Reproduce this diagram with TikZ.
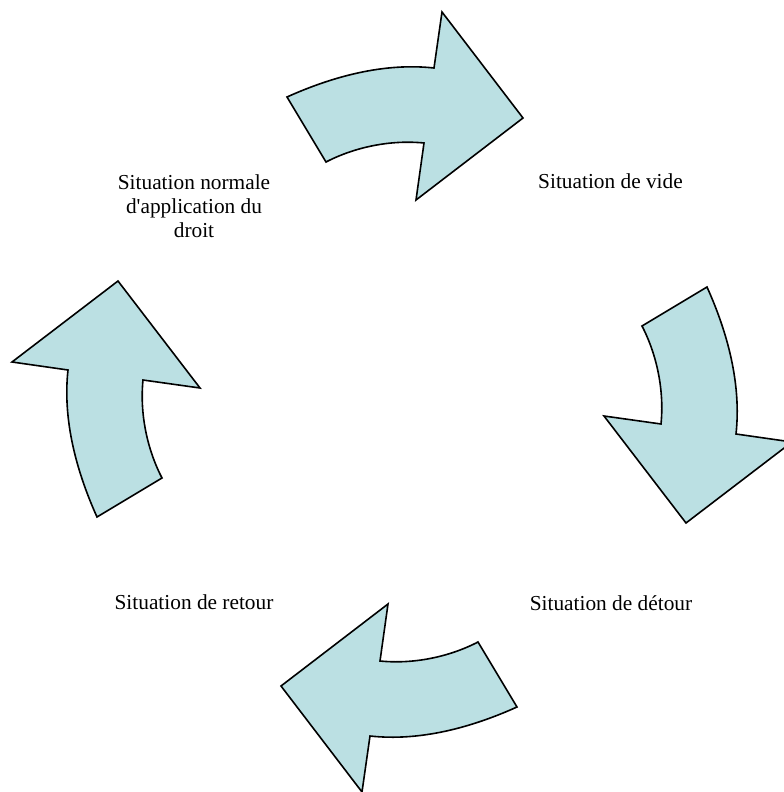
\documentclass[tikz,border=0pt]{standalone}
\usepackage{fontspec}
\setmainfont{Liberation Serif}
\definecolor{arrowfill}{RGB}{187,224,227}
\tikzset{
	cyclearrow/.style={draw=black, fill=arrowfill, line width=1.2pt, line join=miter},
	sitlabel/.style={inner sep=0pt, anchor=base}
}
\begin{document}
\begin{tikzpicture}[x=0.75pt, y=-0.75pt, font=\fontsize{16}{18}\selectfont]
		\useasboundingbox (0,0) rectangle (784,792);
		%	one arrow, turned round the centre
		\foreach \ang in {0,-90,-180,-270}{
			\begin{scope}[shift={(402,402)}, rotate=\ang]
				\draw[cyclearrow] (-115,-305) .. controls (-69.5,-325.5) and (-18,-339.5) .. (32,-334)
				-- (40,-390) -- (121,-284) -- (14,-202) -- (22,-259)
				.. controls (-11,-262.3) and (-46.6,-255.2) .. (-76,-240) -- cycle;
			\end{scope}
		}
		\node[sitlabel, align=center] (normale) at (194,237) {Situation normale\\d\textquotesingle application du\\droit};
		\node[sitlabel] (vide) at (610.5,188) {Situation de vide};
		\node[sitlabel] (detour) at (611,610) {Situation de détour};
		\node[sitlabel] (retour) at (194,609) {Situation de retour};
\end{tikzpicture}
\end{document}
